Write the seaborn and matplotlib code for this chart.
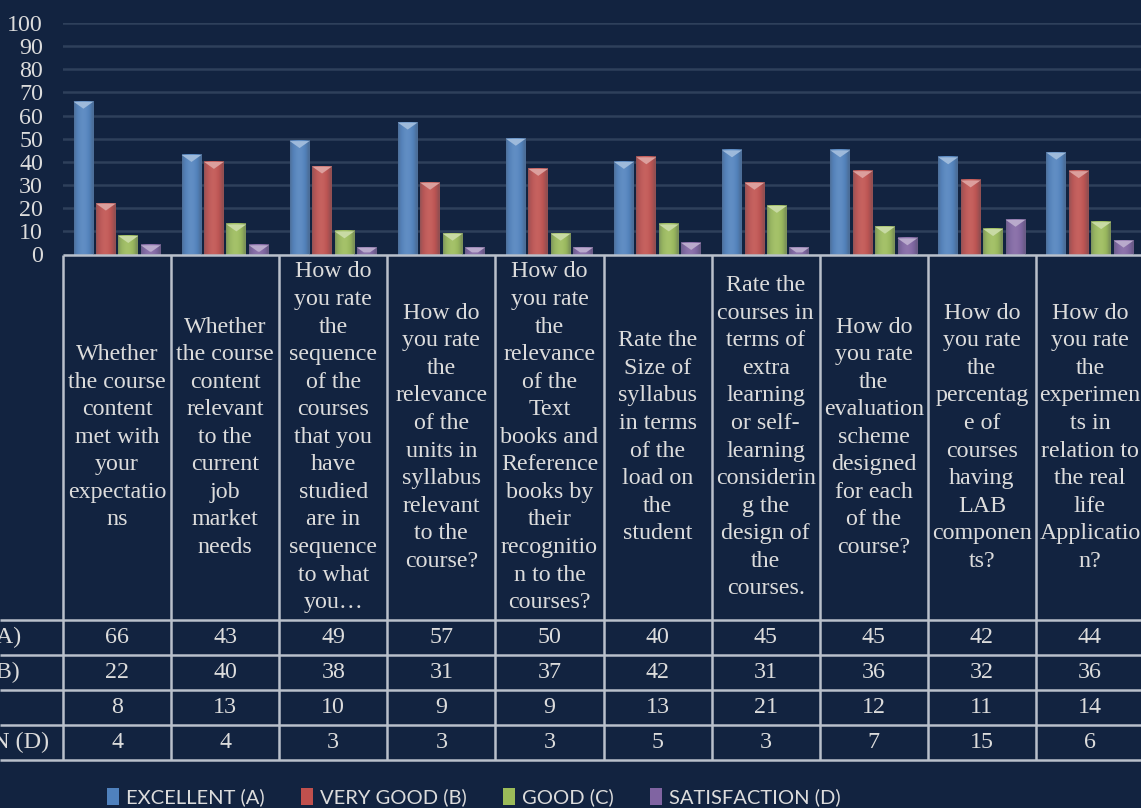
import numpy as np
import pandas as pd
import matplotlib
matplotlib.use("Agg")
import matplotlib.pyplot as plt
import matplotlib.transforms as mtransforms
from matplotlib.patches import Polygon, Patch
from matplotlib.colors import to_rgb
import seaborn as sns

# ---------------- data ----------------
questions = [
    "Whether\nthe course\ncontent\nmet with\nyour\nexpectatio\nns",
    "Whether\nthe course\ncontent\nrelevant\nto the\ncurrent\njob\nmarket\nneeds",
    "How do\nyou rate\nthe\nsequence\nof the\ncourses\nthat you\nhave\nstudied\nare in\nsequence\nto what\nyou\u2026",
    "How do\nyou rate\nthe\nrelevance\nof the\nunits in\nsyllabus\nrelevant\nto the\ncourse?",
    "How do\nyou rate\nthe\nrelevance\nof the\nText\nbooks and\nReference\nbooks by\ntheir\nrecognitio\nn to the\ncourses?",
    "Rate the\nSize of\nsyllabus\nin terms\nof the\nload on\nthe\nstudent",
    "Rate the\ncourses in\nterms of\nextra\nlearning\nor self-\nlearning\nconsiderin\ng the\ndesign of\nthe\ncourses.",
    "How do\nyou rate\nthe\nevaluation\nscheme\ndesigned\nfor each\nof the\ncourse?",
    "How do\nyou rate\nthe\npercentag\ne of\ncourses\nhaving\nLAB\ncomponen\nts?",
    "How do\nyou rate\nthe\nexperimen\nts in\nrelation to\nthe real\nlife\nApplicatio\nn?",
]
series = ["EXCELLENT (A)", "VERY GOOD (B)", "GOOD (C)", "SATISFACTION (D)"]
excellent = [66, 43, 49, 57, 50, 40, 45, 45, 42, 44]
very_good = [22, 40, 38, 31, 37, 42, 31, 36, 32, 36]
good = [8, 13, 10, 9, 9, 13, 21, 12, 11, 14]
satisfaction = [4, 4, 3, 3, 3, 5, 3, 7, 15, 6]
y_ticks = list(range(0, 101, 10))

colors = ["#4f81bd", "#c0504d", "#9bbb59", "#8064a2"]
BG = "#122340"
GRID = "#2e405b"
LINE = "#b9c0cb"
TXT = "#dcdcdc"
SERIF = "Liberation Serif"
FS = 17.3

values_by_series = [excellent, very_good, good, satisfaction]
df = pd.DataFrame({
    "question": questions * len(series),
    "series": np.repeat(series, len(questions)),
    "value": sum(values_by_series, []),
})

W, H = 1141, 808
fig = plt.figure(figsize=(W / 100, H / 100), dpi=100, facecolor=BG)

y0_px, y100_px = 254.5, 23.0
ax = fig.add_axes([63 / W, 1 - y0_px / H, 1081 / W, (y0_px - y100_px) / H])
ax.set_facecolor(BG)

sns.barplot(data=df, x="question", y="value", hue="series", order=questions,
            hue_order=series, palette=colors, width=0.83, gap=0.12,
            saturation=1, legend=False, ax=ax, edgecolor="none", zorder=2)

ax.set_xlim(-0.5, len(questions) - 0.5)
ax.set_ylim(0, 100)
ax.set_yticks(y_ticks)
ax.set_xticks([])
ax.set_xlabel("")
ax.set_ylabel("")
ax.yaxis.grid(True, color=GRID, lw=1.8)
ax.xaxis.grid(False)
ax.set_axisbelow(True)
for s in ax.spines.values():
    s.set_visible(False)
ax.tick_params(axis="y", length=0, pad=14.4, labelcolor=TXT, labelsize=FS)
for lbl in ax.get_yticklabels():
    lbl.set_fontfamily(SERIF)

# --- bevel / gradient look on bars ---
ppu = (y0_px - y100_px) / 100.0  # pixels per value unit


def shade(rgb, f):
    rgb = np.array(rgb)
    if f >= 1:
        return rgb + (1 - rgb) * (f - 1)
    return rgb * f


def soften(rgb, k):
    rgb = np.array(rgb)
    gray = np.array([0.45, 0.5, 0.58])
    return rgb * (1 - k) + gray * k


t = np.linspace(0, 1, 40)
prof = 0.82 + 0.28 * np.sin(np.pi * np.clip(t * 1.08, 0, 1)) ** 0.7
for p in list(ax.patches):
    x, w, h = p.get_x(), p.get_width(), p.get_height()
    if h <= 0:
        continue
    base = to_rgb(p.get_facecolor())
    grad = np.array([[np.clip(soften(shade(base, f), 0.25 * (1 - np.sin(np.pi * tt))), 0, 1)
                      for f, tt in zip(prof, t)]])
    ax.imshow(grad, extent=(x, x + w, 0, h), aspect="auto", zorder=3,
              interpolation="bilinear")
    d0 = 7.0 / ppu
    tip = np.clip(shade(base, 1.45), 0, 1)
    if h * 0.7 >= d0:
        verts = [(x, h), (x + w, h), (x + w / 2, h - d0)]
    else:
        dd = h * 0.7
        off = (w / 2) * dd / d0
        verts = [(x, h), (x + w, h), (x + w - off, h - dd), (x + off, h - dd)]
    ax.add_patch(Polygon(verts, closed=True, facecolor=tip, edgecolor="none", zorder=4))
ax.set_xlim(-0.5, len(questions) - 0.5)
ax.set_ylim(0, 100)

# ---------------- data table ----------------
table_bottom = 760.0
header_bottom = 620.0
row_h = 35.0
tax = fig.add_axes([63 / W, 1 - table_bottom / H, 1081 / W, (table_bottom - y0_px) / H])
tax.set_xlim(-0.5, len(questions) - 0.5)
tax.set_ylim(table_bottom, y0_px)
tax.axis("off")

n = len(questions)
tax.vlines(np.arange(n + 1) - 0.5, y0_px, table_bottom, color=LINE, lw=1.8, clip_on=False)
tax.hlines([y0_px], -0.5, n - 0.5, color=LINE, lw=1.8, clip_on=False)
row_lines = [header_bottom + row_h * k for k in range(len(series) + 1)]
left_fig = -0.5 - 63 / 108.1
tax.hlines(row_lines, left_fig, n - 0.5, color=LINE, lw=1.8, clip_on=False)

for i, q in enumerate(questions):
    tax.text(i, (y0_px + header_bottom) / 2, q, ha="center", va="center",
             multialignment="center", fontsize=FS, family=SERIF, color=TXT,
             linespacing=1.41, clip_on=False)

for r, vals in enumerate(values_by_series):
    yc = header_bottom + row_h * (r + 0.5)
    for i, v in enumerate(vals):
        tax.text(i, yc, str(v), ha="center", va="center", fontsize=FS,
                 family=SERIF, color=TXT)

blend = mtransforms.blended_transform_factory(fig.transFigure, tax.transData)
for r, name in enumerate(series):
    yc = header_bottom + row_h * (r + 0.5)
    tax.text(-157 / W, yc, name, ha="left", va="center", fontsize=FS,
             family=SERIF, color=TXT, transform=blend, clip_on=False)

# ---------------- legend ----------------
handles = [Patch(facecolor=c, edgecolor="none") for c in colors]
fig.legend(handles, series, loc="center", bbox_to_anchor=(474 / W, 1 - 797 / H),
           ncol=4, frameon=False, prop={"family": "Lato", "size": 14.5},
           labelcolor=TXT, handlelength=0.6, handleheight=0.9,
           handletextpad=0.35, columnspacing=1.8, borderpad=0)

fig.savefig("out.png", dpi=100, facecolor=BG)
